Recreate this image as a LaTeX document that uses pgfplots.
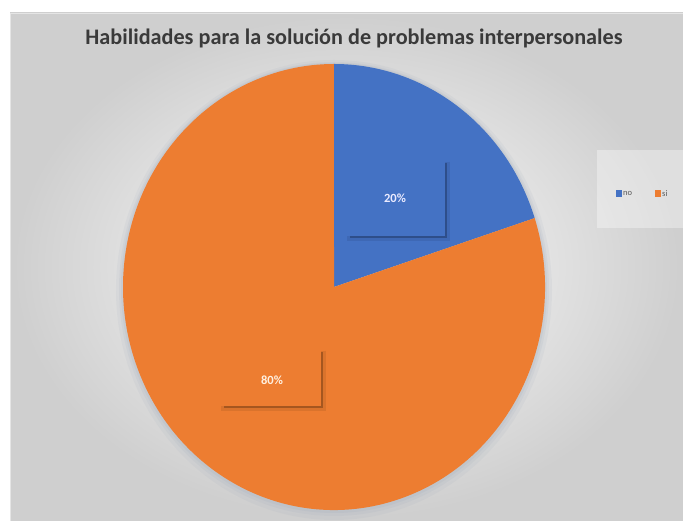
\documentclass[border=0pt]{standalone}
\usepackage{pgfplots}
\pgfplotsset{compat=1.18}
\usepackage{pgfplotstable}
\usepackage{fontspec}
\setmainfont{Carlito}

\definecolor{sliceno}{HTML}{4472C4}
\definecolor{slicesi}{HTML}{ED7D31}
\definecolor{shadno}{HTML}{2E4E8A}
\definecolor{shadsi}{HTML}{A5561F}
\definecolor{titlegray}{HTML}{3A3A3A}
\definecolor{leggray}{HTML}{595959}
\definecolor{glow}{HTML}{9AA6B8}

% one row per slice
\pgfplotstableread{
label value
no    20
si    80
}\piedata

\pgfplotstablegetelem{0}{value}\of\piedata \let\vno\pgfplotsretval
\pgfplotstablegetelem{1}{value}\of\piedata \let\vsi\pgfplotsretval
\pgfmathsetmacro{\angno}{(\vno/(\vno+\vsi))*360}
\pgfmathsetmacro{\angsi}{(\vsi/(\vno+\vsi))*360}
\pgfmathsetmacro{\endno}{90-\angno}
\pgfmathsetmacro{\endsi}{\endno-\angsi}

\begin{document}
\begin{tikzpicture}
\begin{axis}[
  hide axis, scale only axis,
  width=683pt, height=521pt,
  xmin=0, xmax=683, ymin=0, ymax=521,
  enlargelimits=false, clip=false,
]
  % chart area
  \fill[white] (axis cs:0,0) rectangle (axis cs:683,521);
  \shade[inner color=white, outer color=black!19]
    (axis cs:10,0) rectangle (axis cs:683,508);
  \draw[black!10, line width=0.8pt] (axis cs:10,0) -- (axis cs:10,508) -- (axis cs:683,508);

  % title
  \node[font=\bfseries\fontsize{22.2}{26}\selectfont, text=titlegray]
    at (axis cs:354,483) {Habilidades para la solución de problemas interpersonales};

  % soft glow round the pie
  \fill[glow, opacity=0.10] (axis cs:334,231) ellipse [x radius=218pt, y radius=230pt];
  \fill[glow, opacity=0.12] (axis cs:334,232) ellipse [x radius=215pt, y radius=227pt];
  \fill[glow, opacity=0.15] (axis cs:334,233) ellipse [x radius=213pt, y radius=225pt];

  % slices
  \fill[sliceno] (axis cs:334,234) -- (axis cs:334,457)
    arc[start angle=90, end angle=\endno, x radius=211pt, y radius=223pt] -- cycle;
  \fill[slicesi] (axis cs:334,234) -- ++(\endno:211pt and 223pt)
    arc[start angle=\endno, end angle=\endsi, x radius=211pt, y radius=223pt] -- cycle;

  % label box shadows
  \draw[shadno, line width=5pt, opacity=0.25] (axis cs:447,359) -- (axis cs:447,282) -- (axis cs:347,282);
  \draw[shadno, line width=2pt] (axis cs:446,358) -- (axis cs:446,284) -- (axis cs:350,284);
  \draw[shadsi, line width=5pt, opacity=0.25] (axis cs:323,170) -- (axis cs:323,112) -- (axis cs:221,112);
  \draw[shadsi, line width=2pt] (axis cs:322,169) -- (axis cs:322,114) -- (axis cs:224,114);

  % data labels
  \node[font=\bfseries\fontsize{12.5}{14}\selectfont, text=white!92!blue]
    at (axis cs:395,323) {\vno\%};
  \node[font=\bfseries\fontsize{12.5}{14}\selectfont, text=white!88!orange]
    at (axis cs:272,141) {\vsi\%};

  % legend
  \fill[white, opacity=0.35] (axis cs:597,293) rectangle (axis cs:683,371);
  \fill[sliceno] (axis cs:616,324) rectangle (axis cs:621.5,331);
  \node[anchor=west, inner sep=0pt, font=\fontsize{8.5}{10}\selectfont, text=leggray]
    at (axis cs:623,327.5) {no};
  \fill[slicesi] (axis cs:655,324) rectangle (axis cs:660.5,331);
  \node[anchor=west, inner sep=0pt, font=\fontsize{8.5}{10}\selectfont, text=leggray]
    at (axis cs:662,327.5) {si};
\end{axis}
\pgfresetboundingbox
\path[use as bounding box] (0,0) rectangle (683pt,521pt);
\end{tikzpicture}
\end{document}
